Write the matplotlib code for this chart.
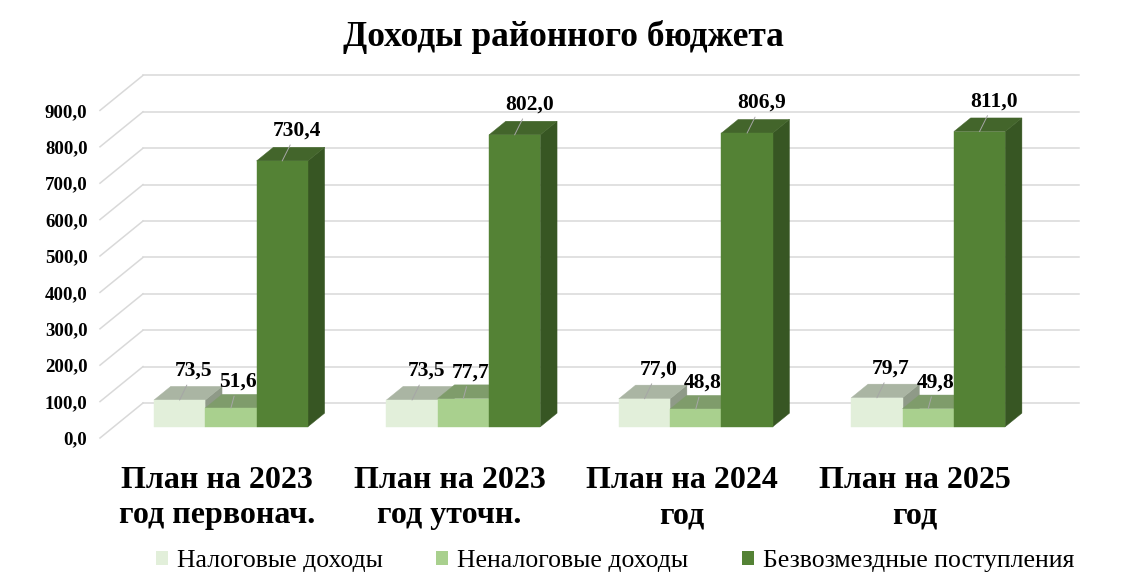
import matplotlib.pyplot as plt
from matplotlib.patches import Polygon, Patch

# Data
categories = ['План на 2023\nгод первонач.', 'План на 2023\nгод уточн.',
              'План на 2024\nгод', 'План на 2025\nгод']
series_names = ['Налоговые доходы', 'Неналоговые доходы', 'Безвозмездные поступления']
tax_income = [73.5, 73.5, 77.0, 79.7]
nontax_income = [51.6, 77.7, 48.8, 49.8]
grants = [730.4, 802.0, 806.9, 811.0]
y_ticks = [0, 100, 200, 300, 400, 500, 600, 700, 800, 900]

# Styles
front_colors = ['#E2EFDA', '#A9D08E', '#548235']
top_colors = ['#AAB5A3', '#7F9C6B', '#43652B']
side_colors = ['#8F9A88', '#6E8C5A', '#375623']
label_offsets = [(14, 29), (7, 26), (15, 30)]  # pixels from bar front-top centre

plt.rcParams['font.family'] = ['Liberation Serif', 'DejaVu Serif']

fig = plt.figure(figsize=(11.3, 5.86), dpi=100)
ax = fig.add_axes([100 / 1130, 148 / 586, 936 / 1130, 327.6 / 586])
ax.set_xlim(-0.504, 3.523)
ax.set_ylim(0, 900)
for s in ax.spines.values():
    s.set_visible(False)

# fake depth (3D look) in data units
DX = 43 / 232.4
DY = 35 / 0.364
d0, d1 = 0.32, 0.71
w = 0.2207

x_lo, x_hi = ax.get_xlim()
grid_c = '#D9D9D9'
for v in y_ticks:
    ax.plot([x_lo, x_lo + DX], [v, v + DY], color=grid_c, lw=1.1, clip_on=False, zorder=1)
    ax.plot([x_lo + DX, x_hi + DX], [v + DY, v + DY], color=grid_c, lw=1.1, clip_on=False, zorder=1)

all_series = [tax_income, nontax_income, grants]
z = 2
for i in range(len(categories)):
    for k, vals in enumerate(all_series):
        h = vals[i]
        xl = i + (k - 1) * w - w / 2 + d0 * DX
        xr = xl + w
        b0 = d0 * DY
        ox, oy = (d1 - d0) * DX, (d1 - d0) * DY
        front = Polygon([(xl, b0), (xr, b0), (xr, b0 + h), (xl, b0 + h)],
                        closed=True, fc=front_colors[k], ec=front_colors[k], lw=0.3,
                        clip_on=False, zorder=z)
        top = Polygon([(xl, b0 + h), (xr, b0 + h), (xr + ox, b0 + h + oy), (xl + ox, b0 + h + oy)],
                      closed=True, fc=top_colors[k], ec=top_colors[k], lw=0.3,
                      clip_on=False, zorder=z)
        side = Polygon([(xr, b0), (xr + ox, b0 + oy), (xr + ox, b0 + h + oy), (xr, b0 + h)],
                       closed=True, fc=side_colors[k], ec=side_colors[k], lw=0.3,
                       clip_on=False, zorder=z)
        for p in (side, top, front):
            ax.add_patch(p)
        z += 1
        dx, dy = label_offsets[k]
        ax.annotate(f'{h:.1f}'.replace('.', ','), xy=(xl + w / 2, b0 + h),
                    xytext=(dx, dy), textcoords='offset pixels',
                    ha='center', va='center', fontsize=15.5, fontweight='bold',
                    annotation_clip=False, zorder=50,
                    arrowprops=dict(arrowstyle='-', color='#A6A6A6', lw=0.7,
                                    shrinkA=1, shrinkB=0))

ax.set_yticks(y_ticks)
ax.set_yticklabels([f'{v:.1f}'.replace('.', ',') for v in y_ticks],
                   fontsize=13.6, fontweight='bold')
ax.set_xticks(range(len(categories)))
ax.set_xticklabels(categories, fontsize=23, fontweight='bold', linespacing=1.3)
ax.tick_params(axis='y', length=0, pad=9)
ax.tick_params(axis='x', length=0, pad=20)

fig.text(0.4987, 1 - 37 / 586, 'Доходы районного бюджета',
         ha='center', va='center', fontsize=25.5, fontweight='bold')

handles = [Patch(facecolor=c, edgecolor='none') for c in front_colors]
fig.legend(handles, series_names, ncol=3, loc='center',
           bbox_to_anchor=(615 / 1130, 1 - 561 / 586), frameon=False,
           fontsize=18.5, handlelength=0.45, handleheight=0.45,
           handletextpad=0.35, columnspacing=2.1)

fig.savefig('out.png', dpi=100)
